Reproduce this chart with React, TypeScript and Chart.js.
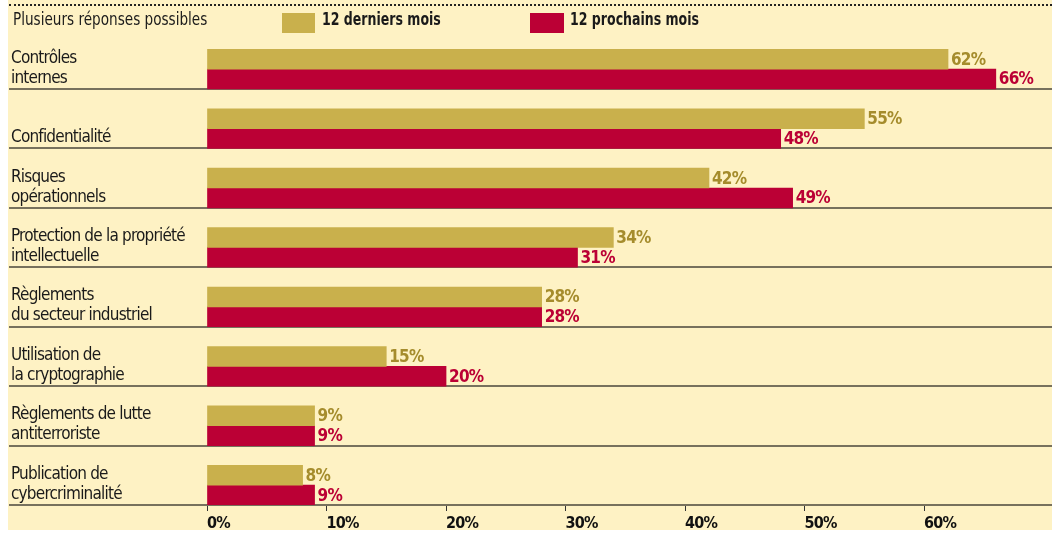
import React, { useEffect, useRef } from 'react';
import { Chart, registerables } from 'chart.js';

Chart.register(...registerables);

// ---- data ----
const categories: string[][] = [
  ['Contrôles', 'internes'],
  ['', 'Confidentialité'],
  ['Risques', 'opérationnels'],
  ['Protection de la propriété', 'intellectuelle'],
  ['Règlements', 'du secteur industriel'],
  ['Utilisation de', 'la cryptographie'],
  ['Règlements de lutte', 'antiterroriste'],
  ['Publication de', 'cybercriminalité'],
];
const derniersMois = [62, 55, 42, 34, 28, 15, 9, 8];
const prochainsMois = [66, 48, 49, 31, 28, 20, 9, 9];
const spacerRow = [0, 0, 0, 0, 0, 0, 0, 0];
const xTickValues = [0, 10, 20, 30, 40, 50, 60];
const seriesNames = ['12 derniers mois', '12 prochains mois'];
const headerNote = 'Plusieurs réponses possibles';

// ---- styles ----
const FONT = "'Liberation Sans Narrow', 'DejaVu Sans Condensed', 'Roboto Condensed', 'Open Sans', sans-serif";
const BG = '#FEF2C4';
const GOLD = '#C9B04C';
const RED = '#BB0035';
const GOLD_TEXT = '#A58C2C';
const RED_TEXT = '#BB0035';
const SEP = '#77715d';

const tightText = {
  id: 'tightText',
  beforeDraw(chart: any) {
    chart.ctx.letterSpacing = '-0.8px';
  },
  afterDraw(chart: any) {
    chart.ctx.letterSpacing = '0px';
  },
};

const valueLabels = {
  id: 'valueLabels',
  afterDatasetsDraw(chart: any) {
    const ctx = chart.ctx;
    chart.data.datasets.forEach((ds: any, i: number) => {
      if (!ds.labelColor) return;
      const meta = chart.getDatasetMeta(i);
      ctx.save();
      ctx.font = `bold 17px ${FONT}`;
      ctx.fillStyle = ds.labelColor;
      ctx.textAlign = 'left';
      ctx.textBaseline = 'middle';
      meta.data.forEach((el: any, j: number) => {
        ctx.fillText(`${ds.data[j]}%`, el.x + 3, el.y + 1);
      });
      ctx.restore();
    });
  },
};

const textBase: React.CSSProperties = {
  position: 'absolute',
  top: 9,
  lineHeight: '20px',
  color: '#1a1a1a',
  whiteSpace: 'nowrap',
  transformOrigin: 'left center',
};

export default function App() {
  const canvasRef = useRef<HTMLCanvasElement | null>(null);

  useEffect(() => {
    if (!canvasRef.current) return;
    const sepColor = (c: any) => (c.index === 0 ? 'rgba(0,0,0,0)' : SEP);
    const chart = new Chart(canvasRef.current, {
      type: 'bar',
      data: {
        labels: categories,
        datasets: [
          { label: '', data: spacerRow, backgroundColor: 'rgba(0,0,0,0)', borderWidth: 0 },
          { label: seriesNames[0], data: derniersMois, backgroundColor: GOLD, borderWidth: 0, labelColor: GOLD_TEXT } as any,
          { label: seriesNames[1], data: prochainsMois, backgroundColor: RED, borderWidth: 0, labelColor: RED_TEXT } as any,
        ],
      },
      options: {
        indexAxis: 'y',
        animation: false,
        responsive: true,
        maintainAspectRatio: false,
        datasets: { bar: { categoryPercentage: 1, barPercentage: 1 } },
        layout: { padding: { top: 29.5, left: 3, right: 0, bottom: 0 } },
        plugins: {
          legend: { display: false },
          tooltip: { enabled: false },
        },
        scales: {
          x: {
            type: 'linear',
            min: 0,
            max: 70.7,
            afterBuildTicks: (scale: any) => {
              scale.ticks = xTickValues.map((v) => ({ value: v }));
            },
            afterFit: (scale: any) => {
              scale.height = 25;
            },
            border: { display: false },
            grid: {
              drawOnChartArea: false,
              drawTicks: true,
              tickLength: 6,
              tickColor: '#333',
              lineWidth: 1,
            },
            ticks: {
              align: 'start',
              padding: 3,
              color: '#111',
              font: { family: FONT, size: 16, weight: 'bold' },
              callback: (v: any) => `${v}%`,
            },
          },
          y: {
            type: 'category',
            offset: true,
            afterFit: (scale: any) => {
              scale.width = 196;
            },
            border: { display: false },
            grid: {
              offset: true,
              drawOnChartArea: true,
              drawTicks: true,
              tickLength: 198,
              lineWidth: 2,
              color: sepColor,
              tickColor: sepColor,
            },
            ticks: {
              crossAlign: 'far',
              labelOffset: 9,
              padding: 0,
              color: '#1a1a1a',
              font: { family: FONT, size: 17, lineHeight: 20 / 17 },
            },
          },
        },
      },
      plugins: [tightText, valueLabels],
    } as any);
    return () => chart.destroy();
  }, []);

  return (
    <div
      style={{
        position: 'absolute',
        top: 0,
        left: 8,
        width: 1044,
        height: 530,
        background: BG,
        fontFamily: FONT,
      }}
    >
      <canvas ref={canvasRef} />
      <div style={{ position: 'absolute', left: 1, right: 0, top: 4, borderTop: '2px dotted #222' }} />
      <div style={{ ...textBase, left: 5, fontSize: 18, transform: 'scaleX(0.84)' }}>{headerNote}</div>
      <div style={{ position: 'absolute', left: 274, top: 13, width: 33, height: 20, background: GOLD }} />
      <div style={{ ...textBase, left: 314, fontSize: 18, fontWeight: 'bold', transform: 'scaleX(0.775)' }}>
        {seriesNames[0]}
      </div>
      <div style={{ position: 'absolute', left: 522, top: 13, width: 34, height: 20, background: RED }} />
      <div style={{ ...textBase, left: 562, fontSize: 18, fontWeight: 'bold', transform: 'scaleX(0.775)' }}>
        {seriesNames[1]}
      </div>
    </div>
  );
}
